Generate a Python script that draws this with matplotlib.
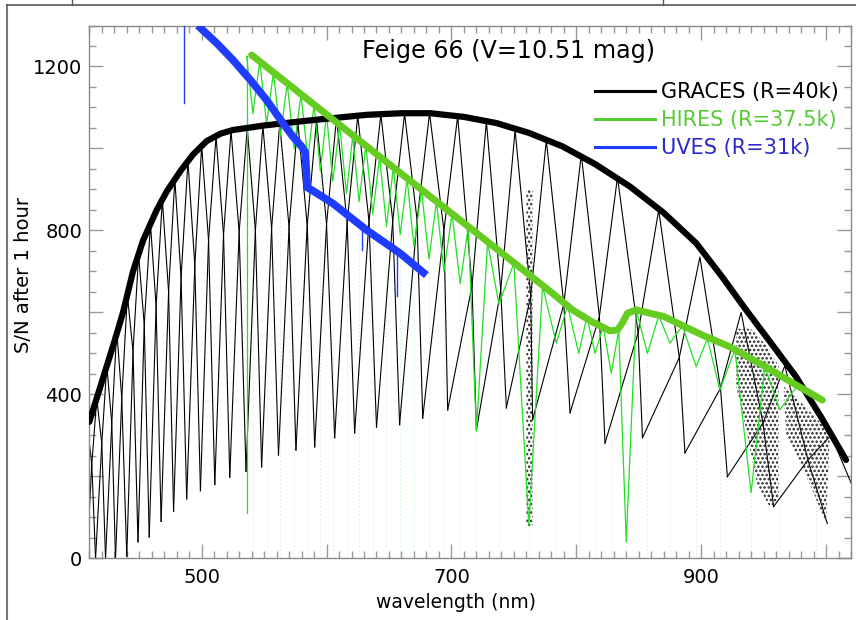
import numpy as np
import matplotlib.pyplot as plt
from matplotlib.lines import Line2D

# ---- values ----
# GRACES envelope (thick black)
graces_wl = [410, 420, 430, 437, 445, 453, 464, 472, 483, 493, 504, 515, 525, 550, 579, 605,
             632, 660, 683, 710, 736, 762, 789, 815, 843, 870, 896, 916, 936, 956, 976, 996,
             1016]
graces_sn = [333, 430, 528, 600, 700, 775, 850, 895, 945, 985, 1018, 1036, 1045, 1056, 1066,
             1074, 1082, 1086, 1086, 1077, 1062, 1038, 1005, 962, 907, 843, 769, 690, 606, 525,
             443, 345, 240]

# GRACES echelle orders: blaze peak of each order
ord_peak_wl = [408.5, 416, 424, 432, 440.5, 449.5, 459, 468.5, 478.5, 489, 500, 511.5, 523.5,
               536.5, 549, 562.5, 577, 592, 608, 625, 643.5, 662.5, 682.5, 705, 728, 751,
               776, 804, 833, 866, 899, 932, 967, 1004]
ord_peak_sn = [320, 390, 470, 557, 642, 740, 815, 875, 925, 970, 1006, 1030, 1044, 1050,
               1056, 1061, 1066, 1070, 1075, 1080, 1083, 1085, 1086, 1079, 1066, 1045, 1020,
               985, 930, 850, 735, 600, 470, 300]
# V-shaped tips under each peak, where the neighbouring orders end
ord_tip_wl = [408, 415, 423, 431, 440, 449, 458, 467.5, 477.5, 488, 499, 510.5, 522.5, 535.5,
              548, 561.5, 575.5, 590.5, 606.5, 622.5, 640, 658.5, 677, 697, 720, 744, 765,
              795, 823, 853, 887, 921, 958, 1001]
ord_tip_sn = [0, 0, 0, 0, 5, 40, 52, 90, 115, 145, 165, 180, 198, 212, 223, 252, 264, 272,
              294, 306, 320, 326, 342, 362, 313, 367, 338, 355, 281, 294, 257, 199, 126, 85]
# points where neighbouring orders cross
ord_cross_wl = [412, 420, 428, 436, 445, 454, 463.5, 473.5, 483.5, 494.5, 505.5, 517.5, 530,
                543, 556, 570, 584.5, 600, 616.5, 634, 653, 672.5, 694, 716.5, 739.5, 763.5,
                790, 818.5, 849.5, 882.5, 915.5, 949.5, 985.5]
ord_cross_sn = [230, 280, 330, 390, 505, 570, 615, 650, 685, 715, 776, 789, 796, 800, 805,
                808, 812, 815, 819, 822, 824, 825, 800, 665, 655, 640, 620, 590, 550, 490,
                415, 330, 240]

# dense telluric absorption (dotted clouds in GRACES data): polygon outlines
o2a_wl = [760, 765, 765, 762, 760]
o2a_sn = [900, 900, 80, 77, 80]
h2o_wl = [928, 940, 952, 962, 962, 955, 945, 935, 928]
h2o_sn = [560, 560, 520, 470, 140, 125, 180, 330, 420]
h2o2_wl = [966, 980, 996, 1003, 1000, 990, 978, 968]
h2o2_sn = [420, 380, 330, 300, 85, 160, 240, 300]

# HIRES envelope (thick green)
hires_wl = [540, 600, 660, 720, 780, 797, 812, 827, 833, 837, 841, 848, 870, 900, 923, 950,
            976, 997]
hires_sn = [1228, 1083, 938, 794, 649, 606, 578, 555, 557, 575, 598, 606, 590, 546, 516, 470,
            423, 386]

# HIRES data (thin green): tops and notches between orders
hires_top_wl = [536, 546.5, 557.5, 568.5, 579.5, 590, 600, 610.5, 621, 631.5, 642.5, 653.5,
                664.5, 676, 688, 700.5, 713.5, 729, 750, 773, 793, 808.5, 821.5, 834, 848, 866,
                885, 905, 927, 951, 977, 997]
hires_top_sn = [1225, 1212, 1186, 1159, 1132, 1107, 1083, 1057, 1032, 1007, 980, 953, 927,
                899, 870, 840, 808, 771, 720, 664, 616, 590, 565, 556, 606, 592, 567, 536, 509,
                468, 421, 386]
hires_notch_wl = [541, 552, 563, 574, 585, 595, 605, 616, 626, 637, 648, 659, 670, 682, 694,
                  707, 720, 738, 762, 784, 802, 815, 828, 840, 857, 875, 896, 915, 940, 963, 992]
hires_notch_sn = [1085, 1060, 1030, 1000, 975, 945, 920, 890, 870, 840, 810, 790, 760, 730,
                  700, 670, 310, 620, 80, 525, 500, 500, 452, 40, 500, 525, 468, 411, 160, 362,
                  403]

# UVES (thick blue)
uves_wl = [497, 499, 512, 525, 539, 552, 565, 573, 580, 583, 584.5, 590, 605, 632, 659, 680]
uves_sn = [1300, 1294, 1257, 1216, 1167, 1118, 1062, 1029, 1005, 990, 905, 895, 866, 801, 744,
           691]
# narrow spectral lines in UVES (wavelength, top, bottom)
uves_line_wl = [486, 628, 656.5]
uves_line_top = [1300, 800, 745]
uves_line_bot = [1110, 752, 640]

plt.rcParams.update({
    "font.family": "DejaVu Sans",
    "xtick.direction": "in",
    "ytick.direction": "in",
    "xtick.top": True,
    "ytick.right": True,
    "hatch.linewidth": 1.2,
})

fig = plt.figure(figsize=(8.56, 6.20), dpi=100)
ax = fig.add_axes([89.3 / 856, 1 - 558.3 / 620, (851 - 89.3) / 856, (558.3 - 25.5) / 620])

# faint order-edge traces of HIRES down to the axis
ax.vlines(hires_notch_wl, 0, hires_notch_sn, colors="#b8f0b8", lw=0.7,
          linestyles=(0, (1, 3)), zorder=1)

# echelle orders (thin black): tip -> cross -> peak -> cross -> tip
n = len(ord_peak_wl)
for k in range(n):
    xs, ys = [], []
    if k == 0:
        xs += [401]
        ys += [0]
    else:
        xs += [ord_tip_wl[k - 1], ord_cross_wl[k - 1]]
        ys += [ord_tip_sn[k - 1], ord_cross_sn[k - 1]]
    xs.append(ord_peak_wl[k])
    ys.append(ord_peak_sn[k])
    if k == n - 1:
        xs += [1040]
        ys += [40]
    else:
        xs += [ord_cross_wl[k], ord_tip_wl[k + 1]]
        ys += [ord_cross_sn[k], ord_tip_sn[k + 1]]
    ax.plot(xs, ys, color="black", lw=0.8, zorder=2)

for pw, ps in [(o2a_wl, o2a_sn), (h2o_wl, h2o_sn), (h2o2_wl, h2o2_sn)]:
    ax.fill(pw, ps, facecolor="none", edgecolor="#222222", hatch="....", lw=0, zorder=2)

# HIRES thin data
hx, hy = [], []
for i in range(len(hires_notch_wl)):
    hx += [hires_top_wl[i], hires_notch_wl[i]]
    hy += [hires_top_sn[i], hires_notch_sn[i]]
hx.append(hires_top_wl[-1])
hy.append(hires_top_sn[-1])
ax.plot(hx, hy, color="#22e022", lw=0.9, zorder=3)
ax.plot([536, 536], [1225, 110], color="#22e022", lw=0.9, zorder=3)

ax.plot(graces_wl, graces_sn, color="black", lw=4.5, solid_capstyle="round", zorder=5)
ax.plot(hires_wl, hires_sn, color="#66cc22", lw=5, solid_capstyle="round", zorder=6)
ax.plot(uves_wl, uves_sn, color="#1f3cff", lw=5.5, solid_capstyle="butt", zorder=7)
for w, t, b in zip(uves_line_wl, uves_line_top, uves_line_bot):
    ax.plot([w, w], [t, b], color="#1f3cff", lw=1.0, zorder=7)

ax.set_xlim(410, 1020)
ax.set_ylim(0, 1300)
ax.set_xticks([500, 600, 700, 800, 900, 1000])
ax.set_xticklabels(["500", "", "700", "", "900", ""])
ax.set_xticks(np.arange(410, 1021, 10), minor=True)
ax.set_yticks([0, 200, 400, 600, 800, 1000, 1200])
ax.set_yticklabels(["0", "", "400", "", "800", "", "1200"])
ax.set_yticks(np.arange(0, 1301, 50), minor=True)
ax.tick_params(which="major", length=10, width=1, color="#999999", labelsize=14)
ax.tick_params(axis="x", which="major", pad=7)
ax.tick_params(axis="y", which="major", pad=5)
ax.tick_params(which="minor", length=5, width=1, color="#999999")
for s in ax.spines.values():
    s.set_color("#8a8a8a")
    s.set_linewidth(1.0)

ax.set_xlabel("wavelength (nm)", fontsize=13.5, labelpad=2)
ax.xaxis.set_label_coords(0.481, -0.065)
ax.set_ylabel("S/N after 1 hour", fontsize=14.1)
ax.yaxis.set_label_coords(-0.074, 0.532)
ax.text(0.55, 0.952, "Feige 66 (V=10.51 mag)", transform=ax.transAxes, ha="center",
        va="center", fontsize=17.2)

handles = [
    Line2D([0], [0], color="black", lw=2.2, label="GRACES (R=40k)"),
    Line2D([0], [0], color="#55cc33", lw=2.2, label="HIRES (R=37.5k)"),
    Line2D([0], [0], color="#1f3cff", lw=2.2, label="UVES (R=31k)"),
]
ax.legend(handles=handles, loc="upper right", bbox_to_anchor=(1.0, 0.917), frameon=False,
          fontsize=15, labelcolor=["black", "#55cc33", "#2a2acc"], handlelength=2.84,
          handletextpad=0.3, labelspacing=0.38, borderaxespad=0.2)

# outer frame bits
fig.add_artist(Line2D([7 / 856, 7 / 856], [0, 1 - 5 / 620], color="#777777", lw=1.5))
fig.add_artist(Line2D([7 / 856, 1], [1 - 5 / 620, 1 - 5 / 620], color="#555555", lw=1.2))
for xp in (72, 663):
    fig.add_artist(Line2D([xp / 856, xp / 856], [1 - 5 / 620, 1], color="#555555", lw=1.0))

fig.savefig("out.png", dpi=100)
